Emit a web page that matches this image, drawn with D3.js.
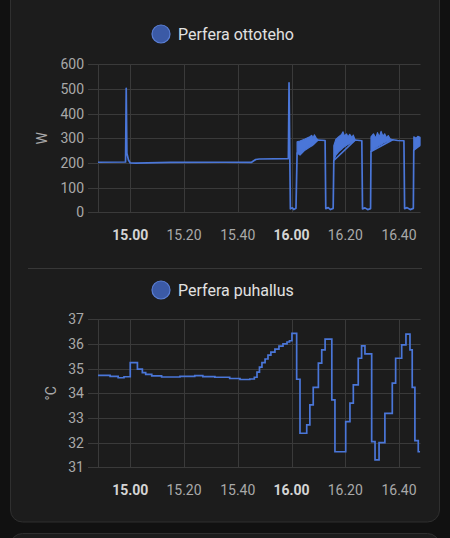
<!DOCTYPE html>
<html>
<head>
<meta charset="utf-8">
<script src="https://cdn.jsdelivr.net/npm/d3@7"></script>
<style>
  html, body { margin: 0; padding: 0; background: #111111; }
  svg { display: block; font-family: Roboto, "Noto Sans", sans-serif; }
</style>
</head>
<body>
<svg id="chart" width="450" height="538"></svg>
<script>
// Power draw (W), "Perfera ottoteho"
const powerSeries = [
  ["14:48:00", 203], ["14:58:15", 204], ["14:58:30", 503], ["14:58:45", 240],
  ["14:59:20", 212], ["15:00:00", 200], ["15:02:00", 199], ["15:15:00", 202],
  ["15:35:00", 203], ["15:45:00", 202], ["15:46:40", 214], ["15:48:00", 216],
  ["15:58:50", 218], ["15:59:05", 525], ["15:59:35", 14], ["16:00:20", 18],
  ["16:00:50", 11], ["16:01:40", 16], ["16:02:05", 240], ["16:09:50", 293],
  ["16:12:30", 291], ["16:12:45", 15], ["16:13:40", 19], ["16:14:30", 11],
  ["16:15:30", 16], ["16:15:45", 210], ["16:23:40", 293], ["16:26:10", 290],
  ["16:26:25", 14], ["16:27:20", 18], ["16:28:20", 11], ["16:29:25", 15],
  ["16:29:35", 246], ["16:37:40", 294], ["16:39:30", 291], ["16:41:50", 290],
  ["16:42:05", 15], ["16:43:00", 19], ["16:44:10", 11], ["16:45:20", 16],
  ["16:45:30", 252], ["16:47:50", 272]
];

// noisy stretches while compressor runs: [time, low, high]
const powerBand1 = [
  ["16:02:05", 240, 286], ["16:03:10", 232, 289], ["16:05:00", 252, 297],
  ["16:06:50", 265, 306], ["16:07:30", 269, 312], ["16:08:00", 273, 300],
  ["16:08:30", 278, 314], ["16:09:10", 285, 302], ["16:09:50", 293, 293]
];
const powerBand2 = [
  ["16:15:45", 210, 270], ["16:16:30", 232, 295], ["16:17:30", 245, 305],
  ["16:18:40", 256, 316], ["16:19:10", 262, 326], ["16:19:40", 266, 310],
  ["16:20:30", 272, 318], ["16:21:00", 275, 305], ["16:21:40", 279, 316],
  ["16:22:30", 283, 303], ["16:23:00", 287, 313], ["16:23:40", 293, 293]
];
const powerBand3 = [
  ["16:29:35", 246, 306], ["16:30:30", 255, 318], ["16:31:20", 262, 300],
  ["16:32:00", 267, 323], ["16:32:40", 271, 305], ["16:33:20", 275, 328],
  ["16:34:00", 280, 308], ["16:34:40", 283, 318], ["16:35:20", 286, 302],
  ["16:36:00", 288, 311], ["16:36:40", 290, 298], ["16:37:40", 294, 294]
];
const powerBand4 = [
  ["16:45:30", 252, 306], ["16:46:20", 262, 300], ["16:47:00", 268, 308],
  ["16:47:50", 272, 304]
];

// Supply air temperature (°C), "Perfera puhallus"
const tempSeries = [
  ["14:48:00", 34.73], ["14:52:30", 34.69], ["14:55:30", 34.63], ["14:57:40", 34.67],
  ["15:00:00", 35.24], ["15:02:40", 34.98], ["15:04:30", 34.84], ["15:05:45", 34.77],
  ["15:08:00", 34.71], ["15:11:40", 34.66], ["15:18:30", 34.69], ["15:24:00", 34.72],
  ["15:27:00", 34.68], ["15:31:30", 34.65], ["15:37:00", 34.60], ["15:40:50", 34.56],
  ["15:44:30", 34.58], ["15:46:10", 34.65], ["15:47:10", 34.86], ["15:48:05", 35.06],
  ["15:49:00", 35.24], ["15:50:10", 35.39], ["15:51:15", 35.55], ["15:52:20", 35.67],
  ["15:53:50", 35.79], ["15:55:20", 35.91], ["15:56:50", 36.00], ["15:58:20", 36.08],
  ["15:59:15", 36.13], ["16:00:10", 36.43], ["16:01:55", 34.57], ["16:03:10", 32.38],
  ["16:05:40", 32.72], ["16:06:50", 33.53], ["16:08:05", 34.24], ["16:10:00", 35.22],
  ["16:11:15", 35.76], ["16:12:30", 36.20], ["16:15:00", 33.73], ["16:16:10", 31.63],
  ["16:20:10", 32.85], ["16:21:45", 33.60], ["16:23:00", 34.34], ["16:24:50", 35.42],
  ["16:26:05", 35.92], ["16:27:20", 35.60], ["16:29:50", 32.04], ["16:31:05", 31.30],
  ["16:32:35", 32.00], ["16:34:45", 33.19], ["16:37:30", 34.41], ["16:38:45", 35.42],
  ["16:41:00", 35.96], ["16:42:35", 36.40], ["16:44:05", 35.76], ["16:44:55", 34.24],
  ["16:45:55", 32.08], ["16:47:10", 31.63], ["16:47:50", 31.63]
];

const timeDomain = ["14:48:00", "16:48:00"];
const powerTicks = [0, 100, 200, 300, 400, 500, 600];
const tempTicks = [31, 32, 33, 34, 35, 36, 37];

const LINE = "#4a76d8";
const GRID = "#3a3a3a";
const LABEL = "#a9a9a9";

const parse = d3.timeParse("%H:%M:%S");
const fmt = d3.timeFormat("%H.%M");

const svg = d3.select("#chart");

//Card background
svg.append("rect")
  .attr("x", 10.5).attr("y", -20)
  .attr("width", 429).attr("height", 542)
  .attr("rx", 12)
  .attr("fill", "#1c1c1c")
  .attr("stroke", "#2f2f2f");
svg.append("rect")
  .attr("x", 10.5).attr("y", 533.5)
  .attr("width", 429).attr("height", 40)
  .attr("rx", 12)
  .attr("fill", "#1c1c1c")
  .attr("stroke", "#2f2f2f");

//Separator between the two charts
svg.append("line")
  .attr("x1", 28).attr("x2", 422)
  .attr("y1", 268.5).attr("y2", 268.5)
  .attr("stroke", "#373737");

const x = d3.scaleTime()
  .domain(timeDomain.map(parse))
  .range([98, 420.5]);

function drawPanel(opts) {
  const y = d3.scaleLinear().domain(opts.domain).range(opts.range);
  const g = svg.append("g");
  const [yBottom, yTop] = opts.range;

  //Legend
  g.append("circle")
    .attr("cx", 161).attr("cy", opts.legendY).attr("r", 9)
    .attr("fill", "#3b5aa6")
    .attr("stroke", "#5a7fd6").attr("stroke-width", 1.2);
  g.append("text")
    .attr("x", 178).attr("y", opts.legendY)
    .attr("dy", "0.35em")
    .attr("fill", "#e1e1e1")
    .style("font-size", "16px")
    .text(opts.name);

  //Horizontal grid + y labels
  g.selectAll("line.hgrid")
    .data(opts.ticks)
    .join("line")
    .attr("x1", 88).attr("x2", 420.5)
    .attr("y1", (d) => Math.round(y(d)) + 0.5)
    .attr("y2", (d) => Math.round(y(d)) + 0.5)
    .attr("stroke", GRID);
  g.selectAll("text.ylab")
    .data(opts.ticks)
    .join("text")
    .attr("x", 84)
    .attr("y", (d) => y(d))
    .attr("dy", "0.35em")
    .attr("text-anchor", "end")
    .attr("fill", LABEL)
    .style("font-size", "14px")
    .text((d) => d);

  //Vertical grid + x labels
  const xTicks = x.ticks(d3.timeMinute.every(20));
  g.selectAll("line.vgrid")
    .data([x.domain()[0], ...xTicks])
    .join("line")
    .attr("x1", (d) => Math.round(x(d)) + 0.5)
    .attr("x2", (d) => Math.round(x(d)) + 0.5)
    .attr("y1", yTop).attr("y2", yBottom)
    .attr("stroke", GRID);
  g.selectAll("text.xlab")
    .data(xTicks)
    .join("text")
    .attr("x", (d) => x(d))
    .attr("y", yBottom + 23)
    .attr("dy", "0.35em")
    .attr("text-anchor", "middle")
    .attr("fill", (d) => d.getMinutes() === 0 ? "#d4d4d4" : LABEL)
    .style("font-size", "14px")
    .style("font-weight", (d) => d.getMinutes() === 0 ? "bold" : "normal")
    .text((d) => fmt(d));

  //Axis title
  g.append("text")
    .attr("transform", `translate(${opts.titleX},${(yTop + yBottom) / 2}) rotate(-90)`)
    .attr("dy", "0.35em")
    .attr("text-anchor", "middle")
    .attr("fill", LABEL)
    .style("font-size", "14px")
    .text(opts.unit);

  return { g, y };
}

//Power panel
const powerPanel = drawPanel({
  name: "Perfera ottoteho", unit: "W", legendY: 34, titleX: 42,
  domain: [0, 600], range: [212.3, 64.3], ticks: powerTicks
});
const band = d3.area()
  .x((d) => x(parse(d[0])))
  .y0((d) => powerPanel.y(d[1]))
  .y1((d) => powerPanel.y(d[2]));
powerPanel.g.selectAll("path.band")
  .data([powerBand1, powerBand2, powerBand3, powerBand4])
  .join("path")
  .attr("d", band)
  .attr("fill", LINE)
  .attr("stroke", LINE)
  .attr("stroke-width", 1.2)
  .attr("stroke-linejoin", "round");
powerPanel.g.append("path")
  .datum(powerSeries)
  .attr("d", d3.line()
    .x((d) => x(parse(d[0])))
    .y((d) => powerPanel.y(d[1])))
  .attr("fill", "none")
  .attr("stroke", LINE)
  .attr("stroke-width", 1.7)
  .attr("stroke-linejoin", "round");

//Temperature panel
const tempPanel = drawPanel({
  name: "Perfera puhallus", unit: "°C", legendY: 290, titleX: 51,
  domain: [31, 37], range: [467.3, 319.3], ticks: tempTicks
});
tempPanel.g.append("path")
  .datum(tempSeries)
  .attr("d", d3.line()
    .curve(d3.curveStepAfter)
    .x((d) => x(parse(d[0])))
    .y((d) => tempPanel.y(d[1])))
  .attr("fill", "none")
  .attr("stroke", LINE)
  .attr("stroke-width", 1.7);
</script>
</body>
</html>
